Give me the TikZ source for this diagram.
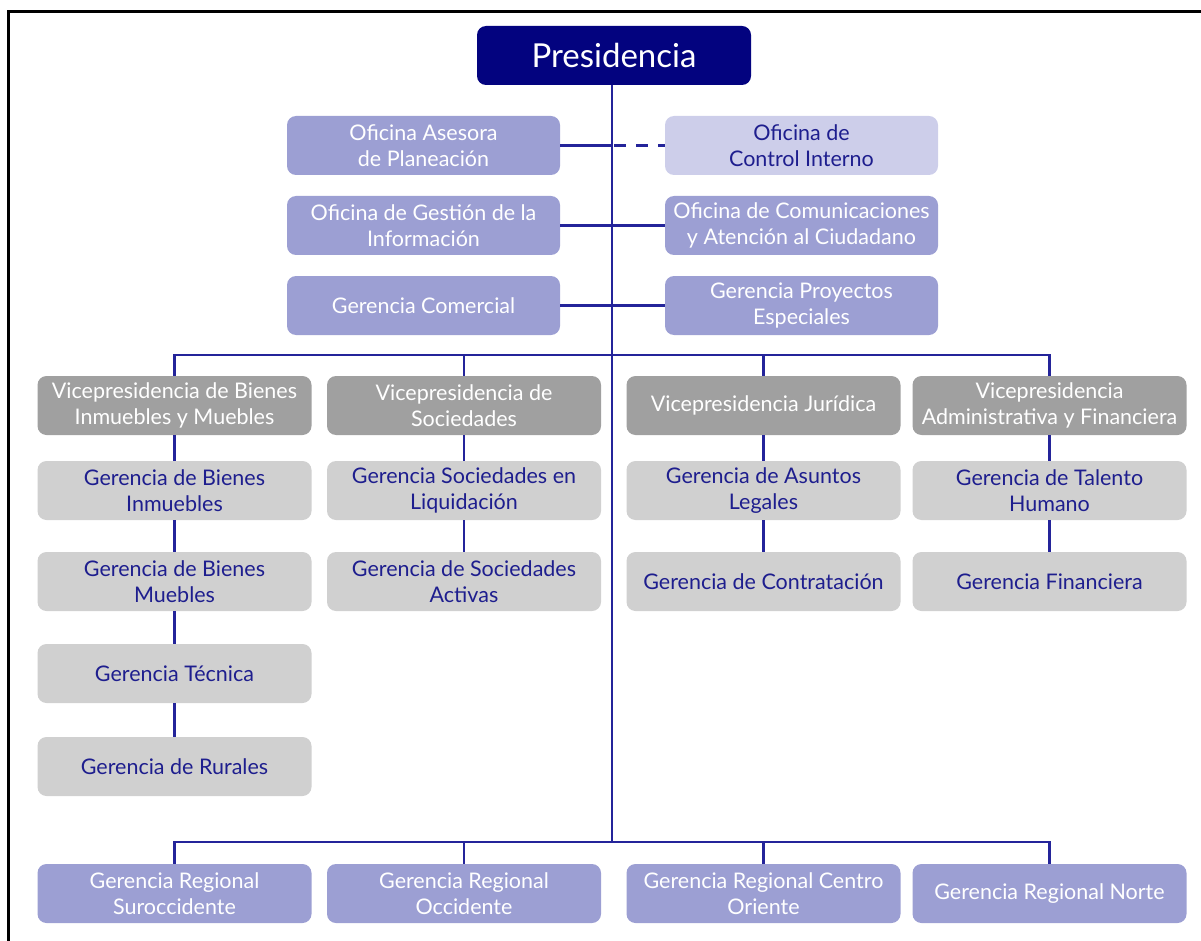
\documentclass[tikz,border=0pt]{standalone}
\usepackage{fontspec}
\setmainfont{Lato}
\definecolor{navy}{HTML}{03037F}
\definecolor{mid}{HTML}{9C9FD3}
\definecolor{light}{HTML}{CDCEEA}
\definecolor{vpgray}{HTML}{A0A0A0}
\definecolor{ggray}{HTML}{D0D0D0}
\definecolor{txtnavy}{HTML}{1E1E8E}
\definecolor{linec}{HTML}{24249A}
\begin{document}
\begin{tikzpicture}[x=1pt,y=-1pt,
  box/.style={rounded corners=9pt, minimum height=59pt, align=center, inner sep=0pt,
    font=\fontsize{21.5}{26.5}\selectfont},
  midbox/.style={box, fill=mid, text=white, minimum width=273pt},
  lightbox/.style={box, fill=light, text=txtnavy, minimum width=273pt},
  vpbox/.style={box, fill=vpgray, text=white, minimum width=274pt},
  gbox/.style={box, fill=ggray, text=txtnavy, minimum width=274pt},
  conn/.style={draw=linec, line width=2.3pt}]
\useasboundingbox (0,0) rectangle (1201,941);
\draw[black, line width=3pt] (8,941) -- (8,12) -- (1201,12);

\node[box, fill=navy, text=white, minimum width=274pt, font=\fontsize{33}{36}\selectfont] (pres) at (614,55.5) {Presidencia};

\node[midbox] (asesora) at (423.5,145.5) {Oficina Asesora\\de Planeación};
\node[lightbox] (control) at (801.5,145.5) {Oficina de\\Control Interno};
\node[midbox] (gestion) at (423.5,225.5) {Oficina de Gestión de la\\Información};
\node[midbox] (comunic) at (801.5,225.5) {Oficina de Comunicaciones\\y Atención al Ciudadano};
\node[midbox] (comercial) at (423.5,305.5) {Gerencia Comercial};
\node[midbox] (proyectos) at (801.5,305.5) {Gerencia Proyectos\\Especiales};

\node[vpbox] (vp1) at (174.5,405.5) {Vicepresidencia de Bienes\\Inmuebles y Muebles};
\node[vpbox] (vp2) at (464,405.5) {Vicepresidencia de\\Sociedades};
\node[vpbox] (vp3) at (763.5,405.5) {Vicepresidencia Jurídica};
\node[vpbox] (vp4) at (1049.5,405.5) {Vicepresidencia\\Administrativa y Financiera};

\node[gbox] (g11) at (174.5,490.5) {Gerencia de Bienes\\Inmuebles};
\node[gbox] (g12) at (174.5,581.5) {Gerencia de Bienes\\Muebles};
\node[gbox] (g13) at (174.5,673.5) {Gerencia Técnica};
\node[gbox] (g14) at (174.5,766.5) {Gerencia de Rurales};
\node[gbox] (g21) at (464,490.5) {Gerencia Sociedades en\\Liquidación};
\node[gbox] (g22) at (464,581.5) {Gerencia de Sociedades\\Activas};
\node[gbox] (g31) at (763.5,490.5) {Gerencia de Asuntos\\Legales};
\node[gbox] (g32) at (763.5,581.5) {Gerencia de Contratación};
\node[gbox] (g41) at (1049.5,490.5) {Gerencia de Talento\\Humano};
\node[gbox] (g42) at (1049.5,581.5) {Gerencia Financiera};

\node[midbox, minimum width=274pt] (r1) at (174.5,893.5) {Gerencia Regional\\Suroccidente};
\node[midbox, minimum width=274pt] (r2) at (464,893.5) {Gerencia Regional\\Occidente};
\node[midbox, minimum width=274pt] (r3) at (763.5,893.5) {Gerencia Regional Centro\\Oriente};
\node[midbox, minimum width=274pt] (r4) at (1049.5,893.5) {Gerencia Regional Norte};

\coordinate (spine) at (612,0);
\coordinate (bot) at (612,842);
\coordinate (bar) at (612,355);

% spine
\draw[conn] (pres.south -| spine) -- (bot);
% staff offices
\draw[conn] (asesora.east) -- (asesora.east -| spine);
\draw[conn, dash pattern=on 12pt off 10pt] (asesora.east -| spine) ++(2,0) -- (control.west);
\draw[conn] (gestion.east) -- (comunic.west);
\draw[conn] (comercial.east) -- (proyectos.west);
% VP bar
\draw[conn] (vp1.north) -- (vp1.north |- bar) -- (vp4.north |- bar) -- (vp4.north);
\draw[conn] (vp2.north) -- (vp2.north |- bar);
\draw[conn] (vp3.north) -- (vp3.north |- bar);
% chains
\draw[conn] (vp1) -- (g11) -- (g12) -- (g13) -- (g14);
\draw[conn] (vp2) -- (g21) -- (g22);
\draw[conn] (vp3) -- (g31) -- (g32);
\draw[conn] (vp4) -- (g41) -- (g42);
% regional bar
\draw[conn] (r1.north) -- (r1.north |- bot) -- (r4.north |- bot) -- (r4.north);
\draw[conn] (r2.north) -- (r2.north |- bot);
\draw[conn] (r3.north) -- (r3.north |- bot);
\end{tikzpicture}
\end{document}
